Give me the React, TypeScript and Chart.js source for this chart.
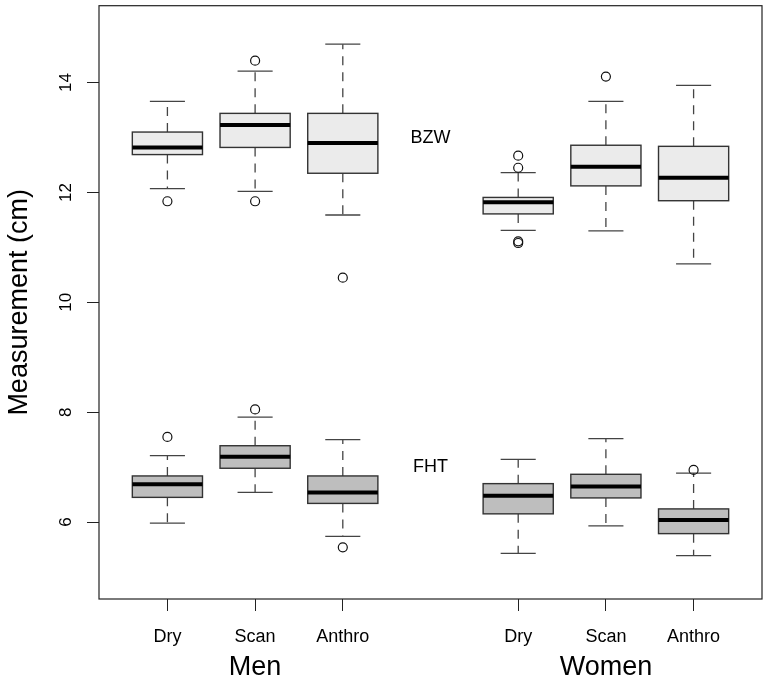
import React, { useEffect, useRef } from "react";
import { Chart, registerables } from "chart.js";

Chart.register(...registerables);

// ---- data ----
const positions = [1, 2, 3, 5, 6, 7];
const categories = ["Dry", "Scan", "Anthro", "Dry", "Scan", "Anthro"];
const groups = ["Men", "Women"];
const groupPositions = [2, 6];
const yTicks = [6, 8, 10, 12, 14];

// BZW boxes
const bzwLow = [12.07, 12.02, 11.59, 11.31, 11.3, 10.7];
const bzwQ1 = [12.69, 12.82, 12.35, 11.61, 12.12, 11.85];
const bzwMedian = [12.82, 13.23, 12.9, 11.82, 12.47, 12.27];
const bzwQ3 = [13.1, 13.44, 13.44, 11.91, 12.86, 12.84];
const bzwHigh = [13.66, 14.21, 14.7, 12.36, 13.66, 13.95];
const bzwOutliers = [[11.84], [11.84, 14.4], [10.45], [12.45, 12.67, 11.11, 11.08], [14.11], []];

// FHT boxes
const fhtLow = [5.98, 6.54, 5.74, 5.43, 5.93, 5.39];
const fhtQ1 = [6.45, 6.98, 6.34, 6.15, 6.44, 5.79];
const fhtMedian = [6.69, 7.19, 6.54, 6.48, 6.65, 6.04];
const fhtQ3 = [6.84, 7.39, 6.84, 6.7, 6.87, 6.24];
const fhtHigh = [7.21, 7.91, 7.5, 7.14, 7.52, 6.89];
const fhtOutliers = [[7.55], [8.05], [5.54], [], [], [6.95]];

const seriesLabels = ["BZW", "FHT"];
const seriesLabelX = [4, 4];
const seriesLabelY = [13.0, 7.0];

const series = [
  { low: bzwLow, q1: bzwQ1, med: bzwMedian, q3: bzwQ3, high: bzwHigh, out: bzwOutliers, fill: "#ebebeb" },
  { low: fhtLow, q1: fhtQ1, med: fhtMedian, q3: fhtQ3, high: fhtHigh, out: fhtOutliers, fill: "#bebebe" },
];

const FONT = "'Liberation Sans', Arial, Helvetica, sans-serif";

const boxPlugin = {
  id: "boxplots",
  beforeDatasetsDraw(chart: any) {
    const { ctx } = chart;
    const xs = chart.scales.x;
    const ys = chart.scales.y;
    ctx.save();
    series.forEach((s) => {
      positions.forEach((p, i) => {
        const xl = xs.getPixelForValue(p - 0.4);
        const xr = xs.getPixelForValue(p + 0.4);
        const xc = xs.getPixelForValue(p);
        const cl = xs.getPixelForValue(p - 0.2);
        const cr = xs.getPixelForValue(p + 0.2);
        const yLow = ys.getPixelForValue(s.low[i]);
        const yQ1 = ys.getPixelForValue(s.q1[i]);
        const yMed = ys.getPixelForValue(s.med[i]);
        const yQ3 = ys.getPixelForValue(s.q3[i]);
        const yHigh = ys.getPixelForValue(s.high[i]);
        // whiskers (dashed)
        ctx.strokeStyle = "#444";
        ctx.lineWidth = 1.3;
        ctx.setLineDash([9, 7]);
        ctx.beginPath();
        ctx.moveTo(xc, yQ1);
        ctx.lineTo(xc, yLow);
        ctx.moveTo(xc, yQ3);
        ctx.lineTo(xc, yHigh);
        ctx.stroke();
        ctx.setLineDash([]);
        // caps
        ctx.beginPath();
        ctx.moveTo(cl, yLow);
        ctx.lineTo(cr, yLow);
        ctx.moveTo(cl, yHigh);
        ctx.lineTo(cr, yHigh);
        ctx.stroke();
        // box
        ctx.fillStyle = s.fill;
        ctx.fillRect(xl, yQ3, xr - xl, yQ1 - yQ3);
        ctx.strokeStyle = "#333";
        ctx.lineWidth = 1.4;
        ctx.strokeRect(xl, yQ3, xr - xl, yQ1 - yQ3);
        // median
        ctx.strokeStyle = "#000";
        ctx.lineWidth = 4;
        ctx.beginPath();
        ctx.moveTo(xl, yMed);
        ctx.lineTo(xr, yMed);
        ctx.stroke();
      });
    });
    ctx.restore();
  },
  afterDraw(chart: any) {
    const { ctx, chartArea } = chart;
    const xs = chart.scales.x;
    const ys = chart.scales.y;
    ctx.save();
    // frame
    ctx.strokeStyle = "#222";
    ctx.lineWidth = 1.2;
    ctx.strokeRect(chartArea.left, chartArea.top, chartArea.right - chartArea.left, chartArea.bottom - chartArea.top);
    ctx.fillStyle = "#000";
    // y tick labels rotated
    ctx.font = `17px ${FONT}`;
    ctx.textAlign = "center";
    ctx.textBaseline = "middle";
    yTicks.forEach((v) => {
      ctx.save();
      ctx.translate(66, ys.getPixelForValue(v));
      ctx.rotate(-Math.PI / 2);
      ctx.fillText(String(v), 0, 0);
      ctx.restore();
    });
    // series labels
    ctx.font = `18px ${FONT}`;
    seriesLabels.forEach((t, i) => {
      ctx.fillText(t, xs.getPixelForValue(seriesLabelX[i]), ys.getPixelForValue(seriesLabelY[i]));
    });
    // group labels
    ctx.font = `27px ${FONT}`;
    ctx.textBaseline = "alphabetic";
    groups.forEach((g, i) => {
      ctx.fillText(g, xs.getPixelForValue(groupPositions[i]), 675);
    });
    ctx.restore();
  },
};

export default function App() {
  const ref = useRef<HTMLCanvasElement | null>(null);
  useEffect(() => {
    document.body.style.margin = "0";
    const canvas = ref.current;
    if (!canvas) return;
    const outlierPoints = (s: any) =>
      positions.flatMap((p, i) => s.out[i].map((v: number) => ({ x: p, y: v })));
    const chart = new Chart(canvas, {
      type: "scatter",
      data: {
        datasets: series.map((s, k) => ({
          label: seriesLabels[k],
          data: outlierPoints(s),
          pointStyle: "circle",
          pointRadius: 4.5,
          pointBorderWidth: 1.2,
          pointBorderColor: "#111",
          pointBackgroundColor: "rgba(255,255,255,0)",
          showLine: false,
        })),
      },
      options: {
        animation: false,
        responsive: false,
        layout: { padding: { top: 5, right: 6, left: 0, bottom: 0 } },
        plugins: {
          legend: { display: false },
          tooltip: { enabled: false },
        },
        scales: {
          x: {
            type: "linear",
            min: 0.22,
            max: 7.78,
            afterBuildTicks: (scale: any) => {
              scale.ticks = positions.map((v) => ({ value: v }));
            },
            afterFit: (scale: any) => {
              scale.height = 82;
            },
            grid: { display: true, drawOnChartArea: false, drawTicks: true, tickLength: 12, color: "#222" },
            border: { display: false },
            ticks: {
              autoSkip: false,
              maxRotation: 0,
              minRotation: 0,
              padding: 15,
              color: "#000",
              font: { size: 18, family: FONT },
              callback: (v: any) => {
                const idx = positions.indexOf(Number(v));
                return idx >= 0 ? categories[idx] : "";
              },
            },
          },
          y: {
            type: "linear",
            min: 4.6,
            max: 15.4,
            afterBuildTicks: (scale: any) => {
              scale.ticks = yTicks.map((v) => ({ value: v }));
            },
            afterFit: (scale: any) => {
              scale.width = 99;
            },
            grid: { display: true, drawOnChartArea: false, drawTicks: true, tickLength: 12, color: "#222" },
            border: { display: false },
            ticks: { display: false },
            title: {
              display: true,
              text: "Measurement (cm)",
              color: "#000",
              font: { size: 27, family: FONT },
              padding: { top: 3, bottom: 0 },
            },
          },
        },
      },
      plugins: [boxPlugin],
    });
    return () => chart.destroy();
  }, []);
  return (
    <div style={{ width: 768, height: 681 }}>
      <canvas ref={ref} width={768} height={681} style={{ display: "block" }} />
    </div>
  );
}
